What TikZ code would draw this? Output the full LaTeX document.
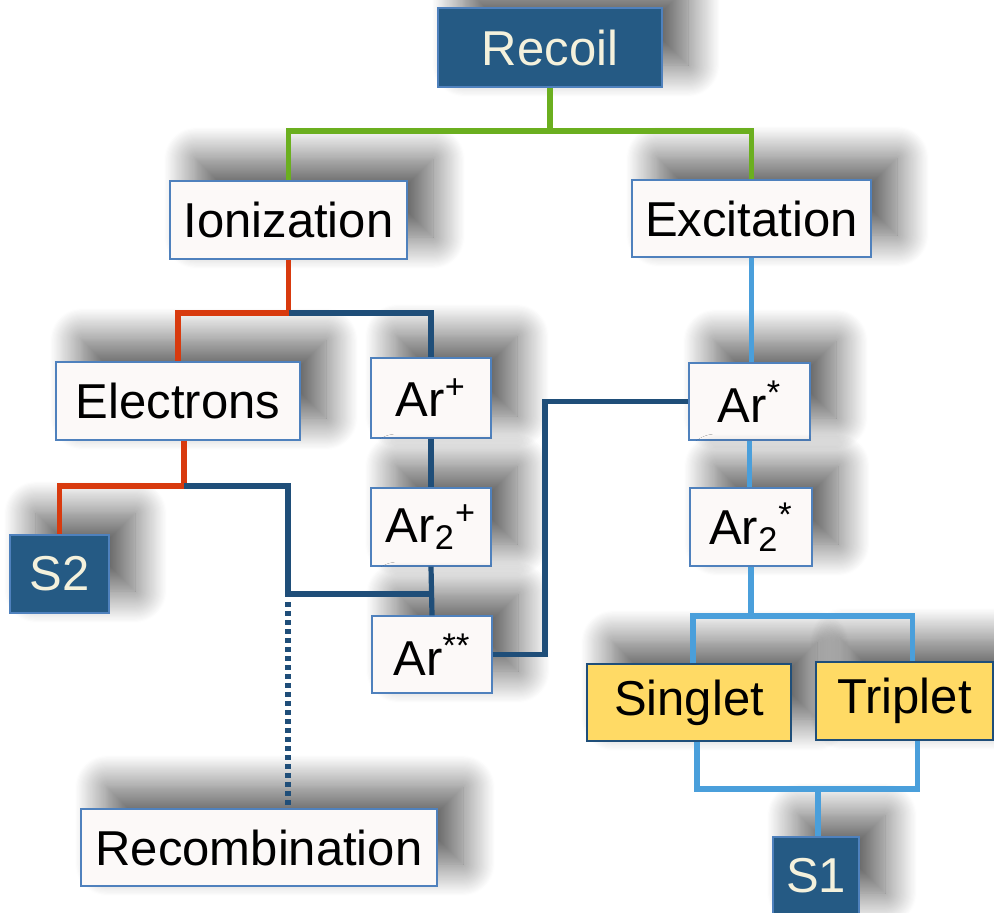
\documentclass[tikz,border=0pt]{standalone}
\usepackage{fontspec}
\setmainfont{Liberation Sans}
\usetikzlibrary{shadows.blur}
\definecolor{darkfill}{HTML}{255A84}
\definecolor{boxline}{HTML}{4F81BD}
\definecolor{boxfill}{HTML}{FCF9F8}
\definecolor{yellowfill}{HTML}{FFDA65}
\definecolor{greenline}{HTML}{6BAF1F}
\definecolor{redline}{HTML}{D83A0E}
\definecolor{navyline}{HTML}{1F4E79}
\definecolor{skyline}{HTML}{4A9FDB}
\definecolor{paletext}{HTML}{F4F1DC}
\begin{document}
\begin{tikzpicture}[x=0.5pt,y=-0.5pt]
\tikzset{
  shadowed/.style={blur shadow={shadow xshift=13pt, shadow yshift=11pt,
    shadow blur radius=16pt, shadow opacity=65, shadow blur steps=30}},
  anybox/.style={shadowed, inner sep=0pt, line width=0.6pt,
    font=\fontsize{24.5}{28}\selectfont},
  plainbox/.style={anybox, draw=boxline, fill=boxfill},
  darkbox/.style={anybox, draw=boxline, fill=darkfill, text=paletext},
  yellowbox/.style={anybox, draw=navyline, fill=yellowfill},
  link/.style={line width=2.6pt},
}
\useasboundingbox (0,0) rectangle (994,912);
\node[darkbox, minimum width=112pt, minimum height=39.5pt] (recoil) at (550,47.5) {Recoil};
\node[plainbox, minimum width=118.5pt, minimum height=39pt] (ionization) at (288.5,220) {Ionization};
\node[plainbox, minimum width=119.5pt, minimum height=38.5pt] (excitation) at (751.5,218.5) {Excitation};
\node[plainbox, minimum width=122pt, minimum height=39pt] (electrons) at (178,401) {Electrons};
\node[plainbox, minimum width=60pt, minimum height=40pt] (arplus) at (431,398) {Ar\textsuperscript{+}};
\node[plainbox, minimum width=60pt, minimum height=39pt] (artwoplus) at (431,527) {Ar\textsubscript{2}\textsuperscript{+}};
\node[plainbox, minimum width=60pt, minimum height=38.5pt] (arstarstar) at (432,654.5) {Ar\textsuperscript{**}};
\node[darkbox, minimum width=49.5pt, minimum height=39pt] (stwo) at (59.5,574) {S2};
\node[plainbox, minimum width=60.5pt, minimum height=38.5pt] (arstar) at (749.5,401.5) {Ar\textsuperscript{*}};
\node[plainbox, minimum width=61pt, minimum height=39pt] (artwostar) at (751,527) {Ar\textsubscript{2}\textsuperscript{*}};
\node[yellowbox, minimum width=102pt, minimum height=38.5pt] (singlet) at (689,702.5) {Singlet};
\node[yellowbox, minimum width=88.5pt, minimum height=39pt] (triplet) at (904.5,701) {Triplet};
\node[plainbox, minimum width=178pt, minimum height=38.5pt] (recombination) at (259,847.5) {Recombination};
\node[darkbox, minimum width=43pt, minimum height=39pt] (sone) at (816,876) {S1};
\coordinate (recsplit) at (550,131);
\coordinate (ionsplit) at (288.5,313);
\coordinate (elsplit) at (184,486);
\coordinate (recjoin) at (288,594);
\coordinate (metabend) at (545,654.5);
\coordinate (excsplit) at (751,616);
\coordinate (sonejoin) at (818,789);
\draw[link, greenline] (recoil.south) -- (recsplit);
\draw[link, greenline] (ionization.north) |- (recsplit) -| (excitation.north);
\draw[link, redline] (ionization.south) -- (ionsplit) -| (electrons.north);
\draw[link, navyline] (ionsplit) -| (arplus.north);
\draw[link, redline] ([xshift=3pt]electrons.south) -- (elsplit) -| (stwo.north);
\draw[link, navyline] (elsplit) -| (recjoin) -- (artwoplus.south |- recjoin);
\draw[link, navyline] (arplus.south) -- (artwoplus.north);
\draw[link, navyline] (artwoplus.south) -- (arstarstar.north);
\draw[link, navyline, dash pattern=on 2.5pt off 2pt] ([yshift=-4pt]recjoin) -- (recombination.north -| recjoin);
\draw[link, navyline] (arstarstar.east) -- (metabend) |- (arstar.west);
\draw[link, skyline] (excitation.south) -- (excitation.south |- arstar.north);
\draw[link, skyline] (arstar.south) -- (arstar.south |- artwostar.north);
\draw[link, skyline] (artwostar.south) -- (excsplit);
\draw[link, skyline] ([xshift=2pt]singlet.north) |- (excsplit) -| ([xshift=4pt]triplet.north);
\draw[link, skyline] ([xshift=4pt]singlet.south) |- (sonejoin) -| ([xshift=6.5pt]triplet.south);
\draw[link, skyline] (sonejoin) -- (sonejoin |- sone.north);
\end{tikzpicture}
\end{document}
